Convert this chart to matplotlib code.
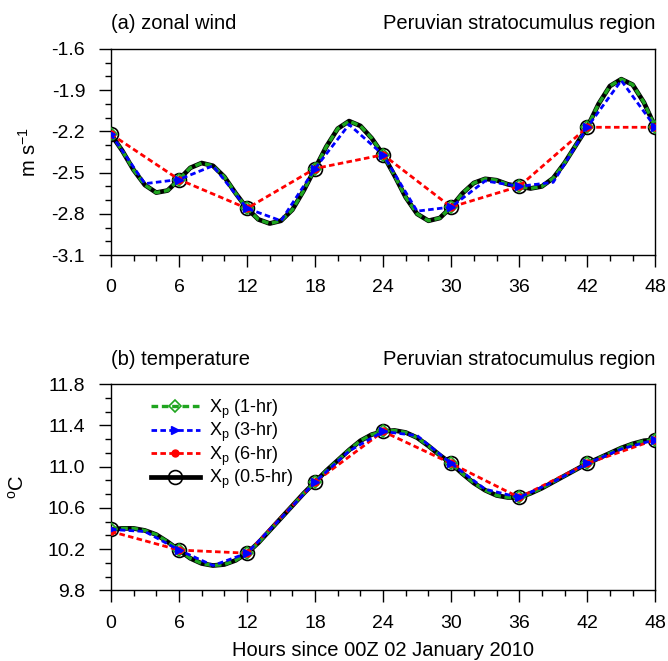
import matplotlib
matplotlib.use('Agg')
import matplotlib.pyplot as plt
import numpy as np
from matplotlib.ticker import MultipleLocator, FixedLocator

plt.rcParams['font.family'] = ['Liberation Sans', 'DejaVu Sans']
plt.rcParams['mathtext.fontset'] = 'custom'
plt.rcParams['mathtext.rm'] = 'Liberation Sans'
plt.rcParams['mathtext.it'] = 'Liberation Sans'

hours_1 = list(range(0, 49))
hours_3 = list(range(0, 49, 3))
hours_6 = list(range(0, 49, 6))

# (a) zonal wind, m s-1
u_1hr = [-2.22, -2.34, -2.48, -2.59, -2.645, -2.63, -2.55, -2.465, -2.43, -2.45,
         -2.53, -2.65, -2.76, -2.84, -2.87, -2.85, -2.77, -2.63, -2.47, -2.31,
         -2.18, -2.125, -2.16, -2.25, -2.37, -2.52, -2.68, -2.80, -2.85, -2.83,
         -2.75, -2.65, -2.575, -2.545, -2.555, -2.585, -2.60, -2.615, -2.60, -2.54,
         -2.43, -2.30, -2.17, -2.00, -1.87, -1.82, -1.86, -1.99, -2.17]
u_3hr = [-2.22, -2.58, -2.55, -2.45, -2.76, -2.85, -2.47, -2.15, -2.37,
         -2.78, -2.75, -2.56, -2.60, -2.57, -2.17, -1.83, -2.17]
u_6hr = [-2.22, -2.55, -2.76, -2.47, -2.37, -2.75, -2.60, -2.17, -2.17]
u_05hr = u_1hr

# (b) temperature, deg C
t_1hr = [10.39, 10.40, 10.40, 10.38, 10.34, 10.27, 10.19, 10.11, 10.06, 10.04,
         10.05, 10.09, 10.16, 10.26, 10.38, 10.50, 10.62, 10.74, 10.85, 10.96,
         11.06, 11.16, 11.25, 11.31, 11.34, 11.35, 11.33, 11.28, 11.20, 11.11,
         11.03, 10.93, 10.84, 10.77, 10.72, 10.70, 10.70, 10.74, 10.79, 10.85,
         10.91, 10.97, 11.03, 11.08, 11.13, 11.18, 11.22, 11.25, 11.26]
t_3hr = [10.39, 10.37, 10.19, 10.04, 10.16, 10.50, 10.85, 11.15, 11.34,
         11.30, 11.03, 10.78, 10.70, 10.85, 11.03, 11.17, 11.26]
t_6hr = [10.37, 10.19, 10.16, 10.85, 11.34, 11.03, 10.70, 11.03, 11.26]
t_05hr = t_1hr

labels = ['X$_p$ (1-hr)', 'X$_p$ (3-hr)', 'X$_p$ (6-hr)', 'X$_p$ (0.5-hr)']
region = 'Peruvian stratocumulus region'

fig = plt.figure(figsize=(6.68, 6.61), dpi=100)
ax1 = fig.add_axes([0.166, 0.614, 0.815, 0.312])
ax2 = fig.add_axes([0.166, 0.107, 0.815, 0.312])


def draw_panel(ax, y05, y1, y3, y6, ymin, ymax, step):
    ax.plot(hours_1, y05, color='black', lw=3.4, marker='o', markevery=6,
            ms=10, mfc='none', mec='black', mew=1.2, label=labels[3], zorder=2)
    ax.plot(hours_1, y1, color='#1fa51f', lw=2.4, ls=(0, (2, 1.1)), marker='D',
            markevery=6, ms=6, mfc='none', mec='#1fa51f', mew=1.2, label=labels[0], zorder=3)
    ax.plot(hours_3, y3, color='blue', lw=2, ls=(0, (2, 1.2)), marker='>',
            markevery=2, ms=6, label=labels[1], zorder=4)
    ax.plot(hours_6, y6, color='red', lw=2, ls=(0, (2, 1.2)), marker='o',
            ms=5, label=labels[2], zorder=3.5)
    ax.set_xlim(0, 48)
    ax.xaxis.set_major_locator(MultipleLocator(6))
    ax.xaxis.set_minor_locator(MultipleLocator(2))
    ax.set_ylim(ymin, ymax)
    majors = np.arange(ymin, ymax + step / 2, step)
    ax.yaxis.set_major_locator(FixedLocator(majors))
    ax.yaxis.set_minor_locator(FixedLocator(np.arange(ymin, ymax + step / 6, step / 3)))
    ax.set_yticklabels(['%.1f' % v for v in majors])
    ax.tick_params(which='major', direction='out', length=8.5, width=1, labelsize=14,
                   top=False, right=False)
    ax.tick_params(axis='y', which='major', pad=10)
    ax.tick_params(axis='x', which='major', pad=9)
    ax.tick_params(which='minor', direction='out', length=4.3, width=1,
                   top=False, right=False)
    for s in ax.spines.values():
        s.set_linewidth(1)
    ax.set_title(region, loc='right', fontsize=14.5, pad=14)


draw_panel(ax1, u_05hr, u_1hr, u_3hr, u_6hr, -3.1, -1.6, 0.3)
ax1.set_ylabel('m s$^{-1}$', fontsize=14.5)
ax1.yaxis.set_label_coords(-0.13, 0.5)
ax1.set_title('(a) zonal wind', loc='left', fontsize=14.5, pad=14)

draw_panel(ax2, t_05hr, t_1hr, t_3hr, t_6hr, 9.8, 11.8, 0.4)
ax2.set_ylabel('$^{\\rm o}$C', fontsize=14.5)
ax2.yaxis.set_label_coords(-0.153, 0.5)
ax2.set_xlabel('Hours since 00Z 02 January 2010', fontsize=14.5, labelpad=7)
ax2.set_title('(b) temperature', loc='left', fontsize=14.5, pad=14)

h, l = ax2.get_legend_handles_labels()
order = [1, 2, 3, 0]
ax2.legend([h[i] for i in order], [l[i] for i in order], loc='upper left',
           bbox_to_anchor=(0.06, 0.97), borderaxespad=0, frameon=False, fontsize=13,
           handlelength=2.7, labelspacing=0.02, handletextpad=0.5)

fig.savefig('out.png', dpi=100)
